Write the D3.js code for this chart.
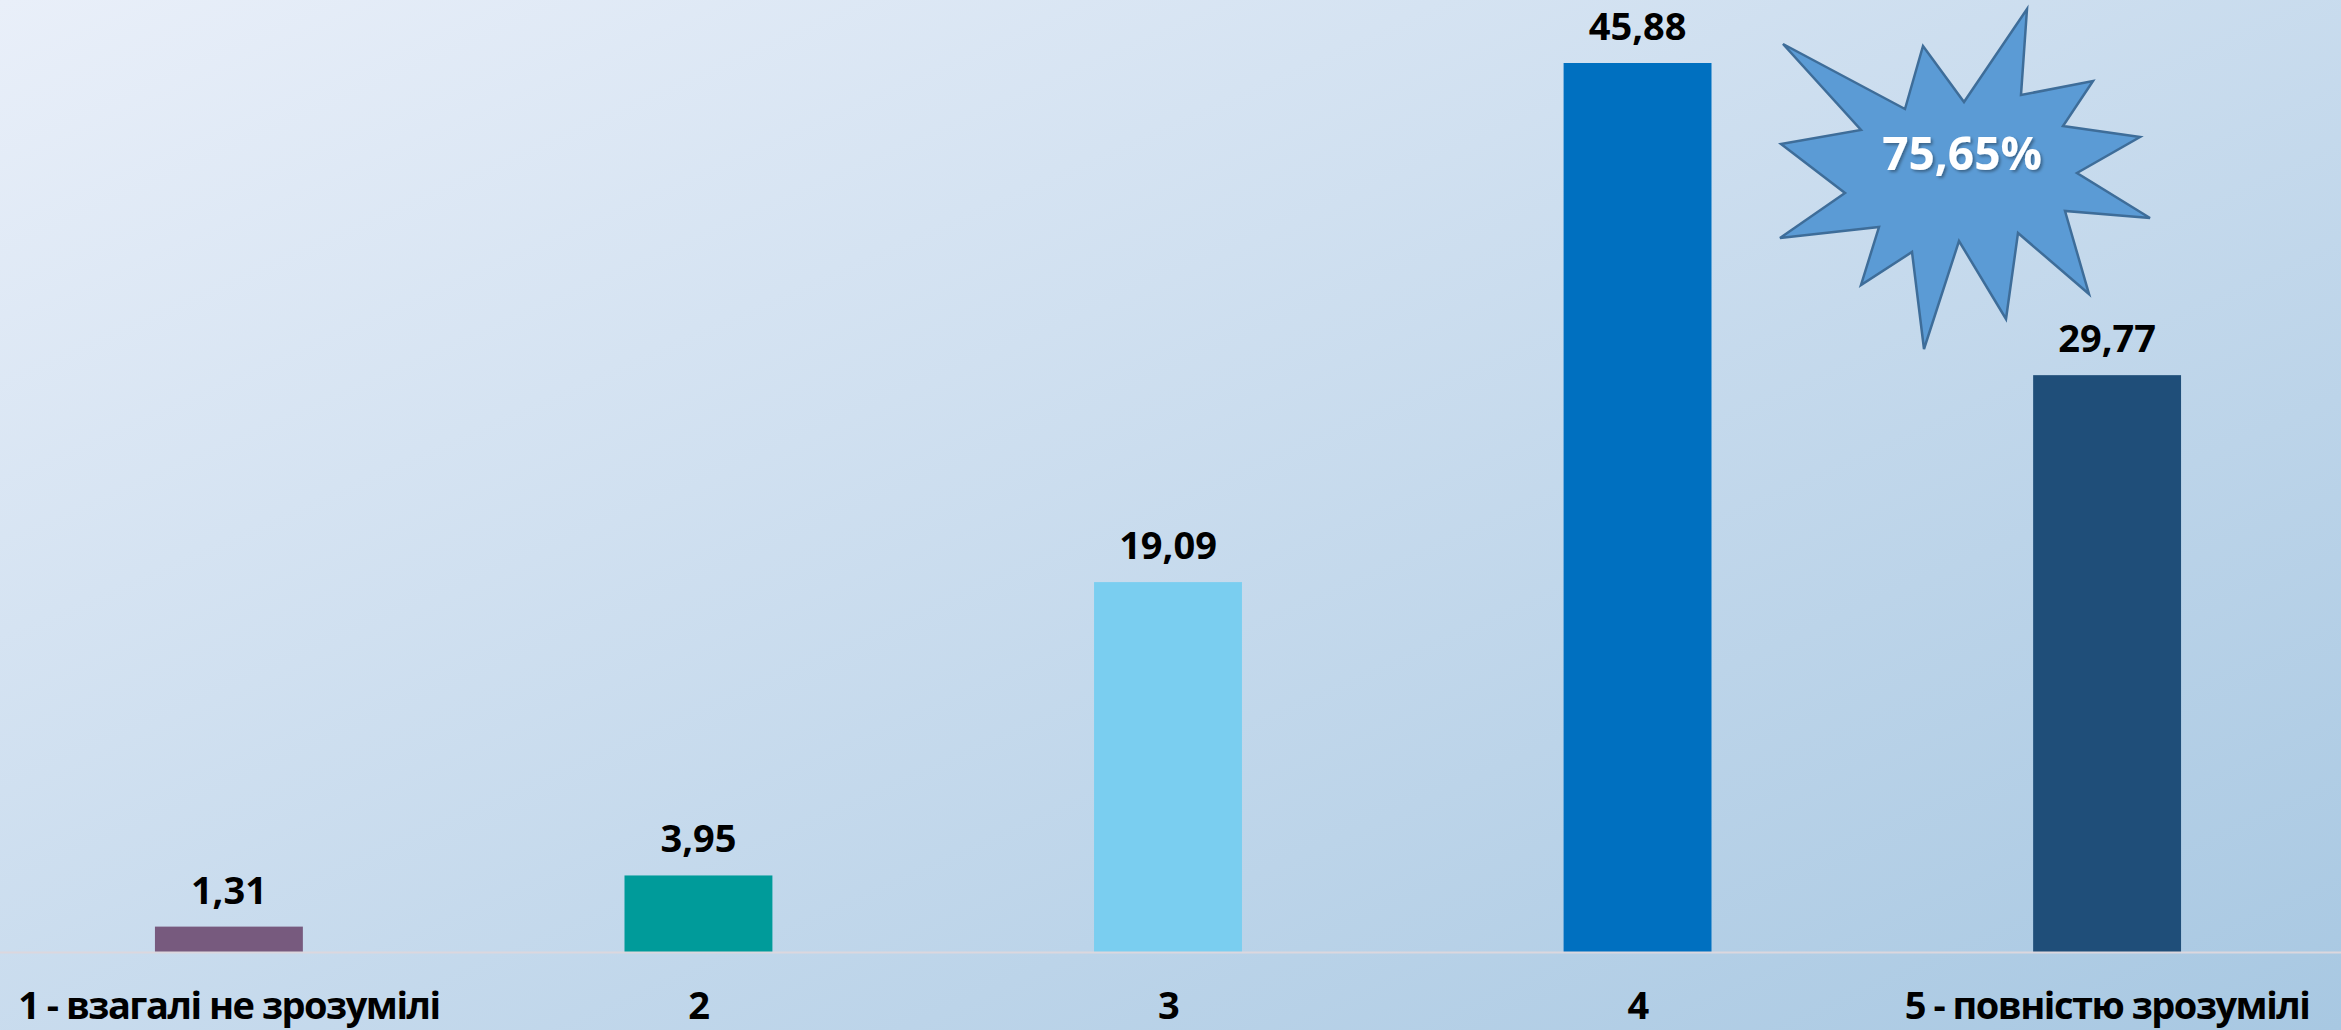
<!DOCTYPE html>
<html>
<head>
<meta charset="utf-8">
<script src="https://cdn.jsdelivr.net/npm/d3@7"></script>
<style>
  html, body { margin: 0; padding: 0; overflow: hidden; }
  text { font-family: "Open Sans", sans-serif; font-weight: 700; }
</style>
</head>
<body>
<div id="chart"></div>
<script>
/** Chart data. */
const CATEGORIES = ["1 - взагалі не зрозумілі", "2", "3", "4", "5 - повністю зрозумілі"];
const VALUES = [1.31, 3.95, 19.09, 45.88, 29.77];
const VALUE_LABELS = ["1,31", "3,95", "19,09", "45,88", "29,77"];
const COLORS = ["#775a7e", "#009b9a", "#7acef0", "#0070c0", "#1f4e79"];
const CALLOUT = "75,65%";

const WIDTH = 2341;
const HEIGHT = 1030;
const BASELINE = 952;

const x = d3.scaleBand()
    .domain(CATEGORIES)
    .range([0, 2336])
    .paddingInner(0.685)
    .paddingOuter(0.33);
const y = d3.scaleLinear()
    .domain([0, 45.88])
    .range([BASELINE, 63]);

const svg = d3.select("#chart").append("svg")
    .attr("width", WIDTH)
    .attr("height", HEIGHT);

const defs = svg.append("defs");
const bg = defs.append("linearGradient")
    .attr("id", "bg")
    .attr("x1", 0).attr("y1", 0)
    .attr("x2", 1).attr("y2", 1);
bg.append("stop").attr("offset", "0%").attr("stop-color", "#e9eff9");
bg.append("stop").attr("offset", "100%").attr("stop-color", "#a8c8e2");

const shadow = defs.append("filter")
    .attr("id", "shadow")
    .attr("x", "-20%").attr("y", "-20%")
    .attr("width", "140%").attr("height", "140%");
shadow.append("feDropShadow")
    .attr("dx", 2).attr("dy", 2)
    .attr("stdDeviation", 1.5)
    .attr("flood-color", "#000")
    .attr("flood-opacity", 0.35);

svg.append("rect")
    .attr("width", WIDTH)
    .attr("height", HEIGHT)
    .attr("fill", "url(#bg)");

// Bars.
svg.append("g")
    .selectAll("rect")
    .data(VALUES)
    .join("rect")
    .attr("x", (d, i) => x(CATEGORIES[i]))
    .attr("y", d => y(d))
    .attr("width", x.bandwidth())
    .attr("height", d => y(0) - y(d))
    .attr("fill", (d, i) => COLORS[i]);

// Zero line.
svg.append("line")
    .attr("x1", 0)
    .attr("x2", WIDTH)
    .attr("y1", y(0) + 0.5)
    .attr("y2", y(0) + 0.5)
    .attr("stroke", "#dcd7de")
    .attr("stroke-width", 2);

// Value labels.
svg.append("g")
    .selectAll("text")
    .data(VALUES)
    .join("text")
    .attr("x", (d, i) => x(CATEGORIES[i]) + x.bandwidth() / 2)
    .attr("y", d => y(d) - 23)
    .attr("text-anchor", "middle")
    .attr("font-size", 38)
    .attr("fill", "#000")
    .text((d, i) => VALUE_LABELS[i]);

// Category axis.
const xAxis = d3.axisBottom(x).tickSize(0).tickPadding(0);
const axisG = svg.append("g")
    .attr("transform", `translate(0,${y(0)})`)
    .call(xAxis);
axisG.select(".domain").remove();
axisG.selectAll("text")
    .attr("dy", 0)
    .attr("y", 67)
    .attr("font-size", 38)
    .attr("font-family", "'Open Sans', sans-serif")
    .attr("font-weight", 700)
    .attr("fill", "#000")
    .attr("letter-spacing", -1.5);

// Explosion callout, points relative to its centre.
const STAR = [
    [65, -144], [59, -58], [131, -72], [101, -27], [178, -16], [115, 20],
    [188, 65], [103, 58], [127, 141], [56, 80], [44, 166], [-3, 88],
    [-38, 196], [-50, 99], [-101, 132], [-83, 74], [-182, 85], [-117, 40],
    [-181, -9], [-101, -23], [-179, -109], [-57, -44], [-39, -107], [2, -51]
];
const star = svg.append("g")
    .attr("transform", "translate(1962,153)");
star.append("path")
    .attr("d", d3.line()(STAR) + "Z")
    .attr("fill", "#5b9bd5")
    .attr("stroke", "#3e6d99")
    .attr("stroke-width", 2.5)
    .attr("stroke-linejoin", "miter");
star.append("text")
    .attr("x", 0)
    .attr("y", 17)
    .attr("text-anchor", "middle")
    .attr("font-size", 46)
    .attr("fill", "#fff")
    .attr("filter", "url(#shadow)")
    .text(CALLOUT);
</script>
</body>
</html>
